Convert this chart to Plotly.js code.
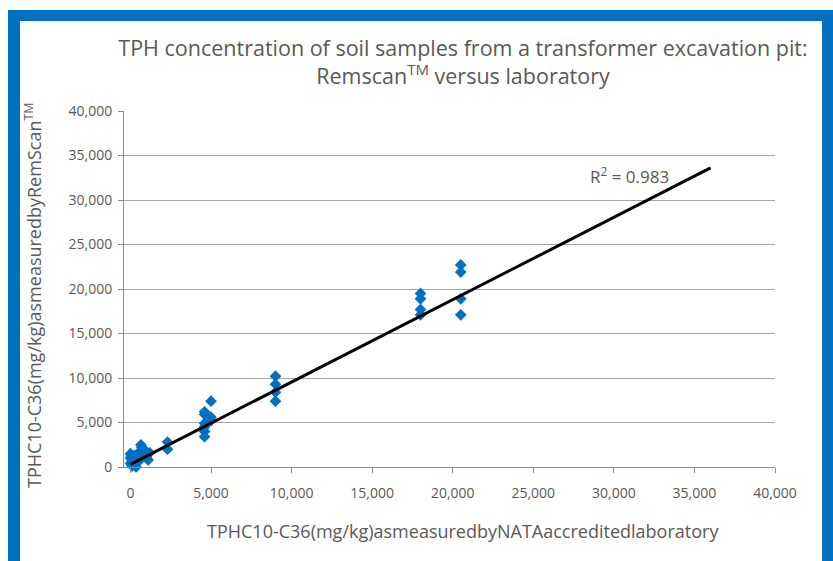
<!DOCTYPE html>
<html>
<head>
<meta charset="utf-8">
<script src="https://cdn.plot.ly/plotly-3.0.1.min.js"></script>
<style>
  html, body { margin: 0; padding: 0; background: #ffffff; overflow: hidden; }
  #wrap { position: relative; width: 833px; height: 561px; overflow: hidden; background: #ffffff; }
  #frame { position: absolute; left: 8px; top: 10px; width: 825px; height: 700px;
           border-left: 12px solid #0070C0; border-top: 11px solid #0070C0; border-right: 11px solid #0070C0;
           box-sizing: border-box; }
  #chart { position: absolute; left: 0; top: 0; width: 833px; height: 561px; }
</style>
</head>
<body>
<div id="wrap">
  <div id="frame"></div>
  <div id="chart"></div>
</div>
<script>
// Laboratory (NATA) values, mg/kg
const labX = [
  0, 0, 0, 50, 100, 100, 150, 200, 250, 300, 350, 400, 500, 600, 650, 700, 800, 900, 1000, 1100, 1200,
  2300, 2300,
  4600, 4600, 4600, 4600, 4600, 4600,
  5000, 5000, 5000,
  9000, 9000, 9000, 9000,
  18000, 18000, 18000, 18000,
  20500, 20500, 20500, 20500
];
// Remscan values, mg/kg
const remY = [
  1500, 1000, 400, 1200, 100, 700, 300, 900, 1300, 500, 0, 1100, 1600, 800, 2500, 2200, 1400, 1900, 1100, 800, 1600,
  2800, 2000,
  6200, 5900, 4900, 4500, 4000, 3400,
  7400, 5600, 5200,
  10200, 9300, 8400, 7400,
  19500, 18900, 17700, 17100,
  22700, 21900, 18900, 17100
];
// Linear trendline parameters
const trendX = [0, 36000];
const trendSlope = 0.925;
const trendIntercept = 300;
const trendR2 = "0.983";

const tickVals = [0, 5000, 10000, 15000, 20000, 25000, 30000, 35000, 40000];
const tickText = ["0", "5,000", "10,000", "15,000", "20,000", "25,000", "30,000", "35,000", "40,000"];

const trendY = trendX.map(x => trendSlope * x + trendIntercept);

const fontFam = "Open Sans, sans-serif";
const txtCol = "#595959";

const data = [
  {
    x: labX, y: remY, type: "scatter", mode: "markers",
    marker: { symbol: "diamond", size: 9, color: "#0070C0" },
    hoverinfo: "skip", cliponaxis: false
  },
  {
    x: trendX, y: trendY, type: "scatter", mode: "lines",
    line: { color: "#000000", width: 3 }, hoverinfo: "skip"
  }
];

const layout = {
  width: 833, height: 561,
  paper_bgcolor: "rgba(0,0,0,0)", plot_bgcolor: "rgba(0,0,0,0)",
  margin: { l: 124, r: 58, t: 111, b: 94 },
  showlegend: false,
  font: { family: fontFam, color: txtCol },
  title: {
    text: "TPH concentration of soil samples from a transformer excavation pit:<br>Remscan<sup>TM</sup> versus laboratory",
    font: { family: fontFam, size: 21.5, color: txtCol },
    x: 463 / 833, xanchor: "center", xref: "container",
    y: 1 - 56 / 561, yanchor: "middle", yref: "container"
  },
  xaxis: {
    range: [-400, 40000],
    tickvals: tickVals, ticktext: tickText,
    showgrid: false, zeroline: false,
    showline: true, linecolor: "#8c8c8c", linewidth: 1,
    ticks: "outside", ticklen: 5, tickcolor: "#8c8c8c",
    tickfont: { family: fontFam, size: 14, color: txtCol },
    ticklabelstandoff: 8
  },
  yaxis: {
    range: [0, 40000],
    tickvals: tickVals, ticktext: tickText,
    showgrid: true, gridcolor: "#a6a6a6", gridwidth: 1,
    zeroline: false,
    showline: true, linecolor: "#8c8c8c", linewidth: 1,
    ticks: "outside", ticklen: 5, tickcolor: "#8c8c8c",
    tickfont: { family: fontFam, size: 14, color: txtCol },
    ticklabelstandoff: 3
  },
  annotations: [
    {
      text: "TPHC10-C36(mg/kg)asmeasuredbyRemScan<sup>TM</sup>",
      xref: "paper", yref: "paper", x: (33 - 124) / 651, y: (467 - 295) / 356,
      xanchor: "center", yanchor: "middle", textangle: -90, showarrow: false,
      font: { family: fontFam, size: 18, color: txtCol }
    },
    {
      text: "TPHC10-C36(mg/kg)asmeasuredbyNATAaccreditedlaboratory",
      xref: "paper", yref: "paper", x: (463 - 124) / 651, y: -(531 - 467) / 356,
      xanchor: "center", yanchor: "middle", showarrow: false,
      font: { family: fontFam, size: 18, color: txtCol }
    },
    {
      text: "R<sup>2</sup> = " + trendR2,
      xref: "x", yref: "y", x: 31000, y: 32800,
      xanchor: "center", yanchor: "middle", showarrow: false,
      font: { family: fontFam, size: 17, color: txtCol }
    }
  ]
};

Plotly.newPlot("chart", data, layout, { displayModeBar: false, staticPlot: true });
</script>
</body>
</html>
